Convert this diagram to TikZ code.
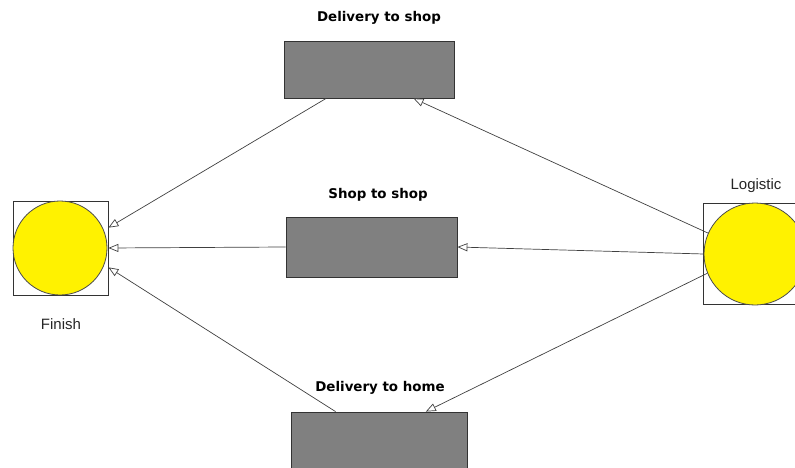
\documentclass[tikz,border=0pt]{standalone}
\usepackage{fontspec}
\setmainfont{Liberation Sans}
\newfontfamily\labelfont{DejaVu Sans}
\usetikzlibrary{arrows.meta}

\begin{document}
\begin{tikzpicture}[x=1pt,y=-1pt,
    stepbox/.style={draw=black!80, fill=gray, line width=0.8pt, inner sep=0pt, minimum height=57pt},
    outerbox/.style={draw=black!80, line width=0.8pt, inner sep=0pt},
    disc/.style={circle, draw=black!70, fill=yellow, line width=0.8pt, inner sep=0pt},
    steplabel/.style={font={\labelfont\bfseries\fontsize{13.4}{15}\selectfont}},
    endlabel/.style={text=black!85, font={\fontsize{15}{17}\selectfont}},
    flow/.style={draw=black!75, line width=0.7pt, -{Triangle[length=10pt,width=8pt,fill=white]}}]
            \useasboundingbox (0,0) rectangle (795,468);
            \clip (0,0) rectangle (795,468);

            %start and end
            \node[outerbox, minimum width=95pt, minimum height=94pt] (finframe) at (60.5,248) {};
            \node[disc, minimum size=94pt] (finish) at (60,248) {};
            \node[endlabel] (finlabel) at (61,324) {Finish};

            \node[outerbox, minimum width=101pt, minimum height=101pt] (logframe) at (753.5,253.5) {};
            \node[disc, minimum size=102pt] (logistic) at (755,254) {};
            \node[endlabel] (loglabel) at (756,186) {Logistic};

            %steps
            \node[stepbox, minimum width=170pt] (dshop) at (369,69.5) {};
            \node[steplabel] (dshoplabel) at (379,18) {Delivery to shop};

            \node[stepbox, minimum width=171pt, minimum height=60pt] (sshop) at (371.5,247) {};
            \node[steplabel] (sshoplabel) at (378,195) {Shop to shop};

            \node[stepbox, minimum width=176pt, minimum height=60pt] (dhome) at (379,442) {};
            \node[steplabel] (dhomelabel) at (380,388) {Delivery to home};

            %flows
            \draw[flow] (dshop.214) -- (finframe.23);
            \draw[flow] (sshop.west) -- (finframe.east);
            \draw[flow] (dhome.145.7) -- (finframe.-22);

            \draw[flow] (logistic.156) -- (dshop.-33.5);
            \draw[flow] (logistic.west) -- (sshop.east);
            \draw[flow] (logistic.-158) -- (dhome.33.1);
        \end{tikzpicture}
\end{document}
